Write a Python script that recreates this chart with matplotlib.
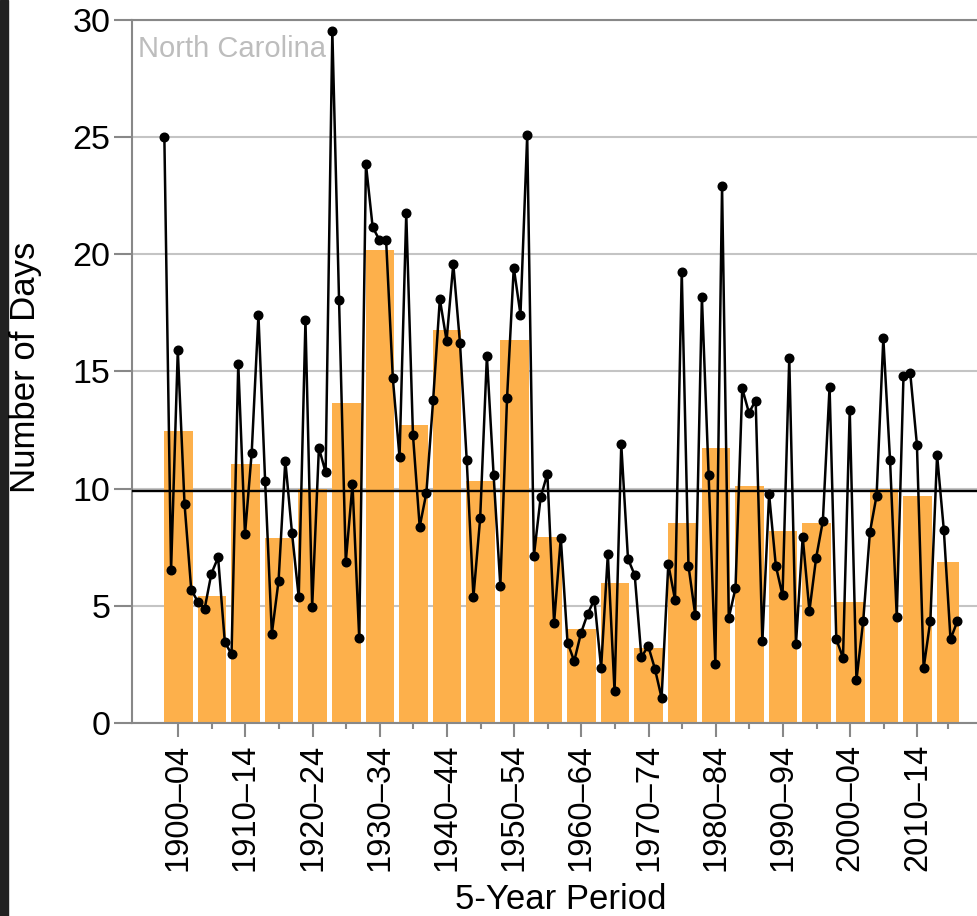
import matplotlib.pyplot as plt
from matplotlib.patches import Rectangle

plt.rcParams['font.family'] = ['Liberation Sans', 'DejaVu Sans']

# annual number of days, 1900-2018
years = list(range(1900, 2019))
days = [
    25.0, 6.51, 15.89, 9.35, 5.69,
    5.16, 4.88, 6.37, 7.06, 3.45,
    2.94, 15.32, 8.04, 11.53, 17.4,
    10.3, 3.81, 6.07, 11.19, 8.1,
    5.36, 17.18, 4.96, 11.73, 10.69,
    29.5, 18.02, 6.87, 10.18, 3.63,
    23.83, 21.15, 20.6, 20.6, 14.72,
    11.33, 21.73, 12.28, 8.37, 9.82,
    13.77, 18.08, 16.31, 19.58, 16.19,
    11.21, 5.38, 8.73, 15.65, 10.58,
    5.85, 13.85, 19.42, 17.42, 25.06,
    7.14, 9.62, 10.63, 4.27, 7.9,
    3.43, 2.64, 3.83, 4.66, 5.26,
    2.34, 7.2, 1.35, 11.88, 7.0,
    6.31, 2.8, 3.29, 2.32, 1.07,
    6.77, 5.26, 19.25, 6.71, 4.62,
    18.17, 10.58, 2.52, 22.9, 4.48,
    5.75, 14.27, 13.23, 13.75, 3.49,
    9.76, 6.71, 5.44, 15.56, 3.37,
    7.94, 4.78, 7.04, 8.61, 14.33,
    3.57, 2.78, 13.35, 1.83, 4.33,
    8.13, 9.7, 16.41, 11.21, 4.52,
    14.78, 14.94, 11.87, 2.34, 4.37,
    11.43, 8.25, 3.57, 4.33,
]

# 5-year period averages
period_start = list(range(1900, 2016, 5))
period_end = [s + 4 for s in period_start[:-1]] + [2018]
period_avg = [12.46, 5.40, 11.03, 7.90, 9.98, 13.63, 20.18, 12.70,
              16.77, 10.32, 16.33, 7.94, 3.99, 5.97, 3.19, 8.51,
              11.73, 10.10, 8.17, 8.55, 5.16, 9.98, 9.66, 6.88]
period_labels = ['%d\u2013%02d' % (s, e % 100) for s, e in zip(period_start, period_end)]
long_term_avg = 9.88

fig = plt.figure(figsize=(9.78, 9.16), dpi=100)
fig.patches.append(Rectangle((0, 0), 8 / 978, 1, transform=fig.transFigure,
                             color='#222222', zorder=-1))
ax = fig.add_axes([0.135, 0.2107, 0.865, 0.768])

lefts = [s - 0.05 for s in period_start]
widths = [e - s + 0.25 for s, e in zip(period_start, period_end)]
ax.bar(lefts, period_avg, width=widths, align='edge', color='#fdb04b', zorder=2)

ax.axhline(long_term_avg, color='black', lw=1.7, zorder=3)
ax.plot(years, days, color='black', lw=1.8, marker='o', markersize=6.2, zorder=4)

ax.set_xlim(1895.19, 2021.09)
ax.set_ylim(0, 30)
ax.set_yticks(range(0, 31, 5))
ax.yaxis.grid(True, color='#c4c4c4', lw=1.5)
ax.set_axisbelow(True)

centers = [l + w / 2 for l, w in zip(lefts, widths)]
ax.set_xticks(centers[::2])
ax.set_xticklabels(period_labels[::2], rotation=90)
ax.set_xticks(centers[1::2], minor=True)

ax.tick_params(axis='y', labelsize=24.5, length=12.7, width=1.5, color='#888888', pad=3)
ax.tick_params(axis='x', which='major', labelsize=23.5, length=10, width=1.5,
               color='#888888', pad=5)
ax.tick_params(axis='x', which='minor', length=4.5, width=1.5, color='#888888')

for side in ['left', 'top', 'bottom']:
    ax.spines[side].set_color('#888888')
    ax.spines[side].set_linewidth(1.5)
ax.spines['right'].set_visible(False)

ax.set_ylabel('Number of Days', fontsize=25)
ax.yaxis.set_label_coords(-0.106, 0.505)
ax.set_xlabel('5-Year Period', fontsize=25)
ax.xaxis.set_label_coords(0.5065, -0.227)

ax.text(0.007, 28.39, 'North Carolina', transform=ax.get_yaxis_transform(),
        fontsize=21, color='#bdbdbd', va='baseline', ha='left')

fig.savefig('out.png', dpi=100)
